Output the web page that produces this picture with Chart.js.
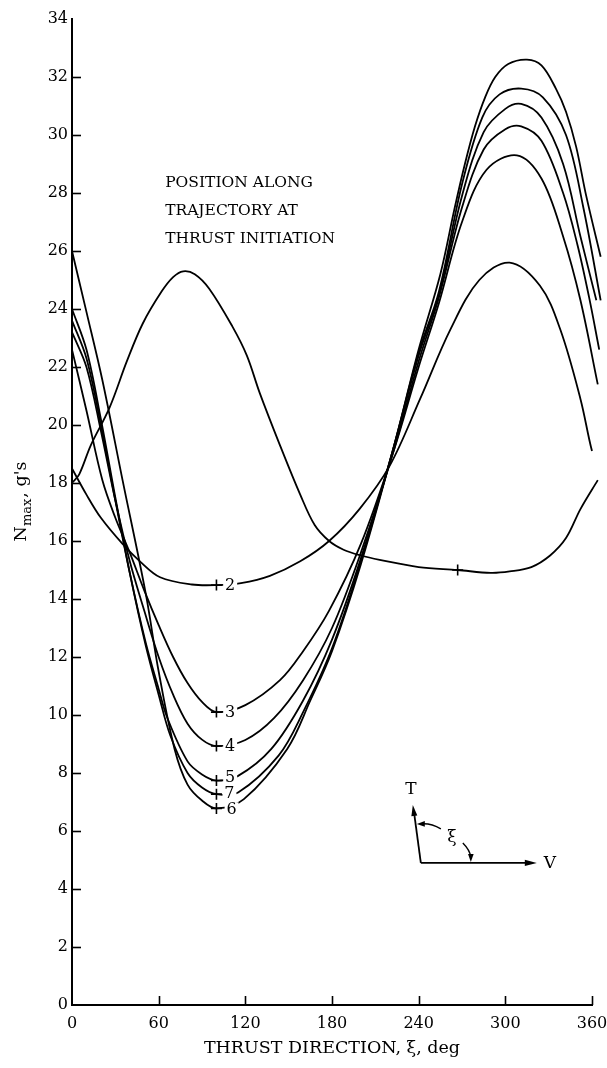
<!DOCTYPE html>
<html>
<head>
<meta charset="utf-8">
<script src="https://cdn.jsdelivr.net/npm/chart.js@4.4.0/dist/chart.umd.min.js"></script>
<style>
  html, body { margin: 0; padding: 0; background: #ffffff; }
  #chart { display: block; }
</style>
</head>
<body>
<canvas id="chart" width="607" height="1068"></canvas>
<script>
// N_max vs thrust direction — curves por posición en la trayectoria (2..7)

// tick labels
const xTicks = [0, 60, 120, 180, 240, 300, 360];
const yTicks = [0, 2, 4, 6, 8, 10, 12, 14, 16, 18, 20, 22, 24, 26, 28, 30, 32, 34];

// curva sin número (pico cerca de 77 deg)
const curve1Deg = [0, 5, 13, 26, 38, 49, 62, 70, 77, 85, 95, 111, 121, 130, 144, 158, 168, 178, 188, 200, 213, 240, 267, 290, 303, 318, 331, 342, 352, 364];
const curve1G   = [18.0, 18.3, 19.3, 20.6, 22.2, 23.5, 24.6, 25.1, 25.3, 25.2, 24.7, 23.4, 22.4, 21.1, 19.3, 17.6, 16.55, 16.0, 15.7, 15.5, 15.35, 15.1, 15.0, 14.9, 14.95, 15.1, 15.5, 16.1, 17.1, 18.1];

// posición 2
const curve2Deg = [0, 10, 20, 35, 47, 61, 83, 100, 117, 137, 158, 178, 199, 220, 241, 262, 282, 303, 324, 338, 352, 360, 365];
const curve2G   = [18.5, 17.6, 16.8, 15.9, 15.3, 14.75, 14.5, 14.48, 14.55, 14.8, 15.3, 16.0, 17.1, 18.6, 20.9, 23.3, 25.0, 25.6, 24.8, 23.3, 20.9, 19.1, 18.4];

// posición 3
const curve3Deg = [0, 10, 21, 30, 40, 50, 60, 70, 80, 90, 100, 120, 144, 160, 178, 200, 222, 240, 254, 270, 287, 308, 325, 340, 352, 364];
const curve3G   = [22.6, 20.5, 18.1, 16.8, 15.6, 14.3, 13.1, 12.0, 11.1, 10.45, 10.1, 10.34, 11.2, 12.2, 13.6, 15.9, 19.0, 22.0, 24.2, 27.0, 28.8, 29.3, 28.5, 26.5, 24.3, 21.4];

// posición 4
const curve4Deg = [0, 10, 20, 30, 40, 50, 60, 70, 80, 90, 100, 120, 140, 160, 180, 200, 222, 240, 254, 270, 285, 300, 311, 325, 340, 350, 358, 365];
const curve4G   = [23.2, 22.0, 19.8, 17.4, 15.3, 13.6, 12.0, 10.7, 9.7, 9.15, 8.93, 9.14, 9.9, 11.2, 13.0, 15.6, 19.0, 22.2, 24.4, 27.5, 29.5, 30.2, 30.3, 29.8, 28.0, 26.2, 24.4, 22.6];

// posición 5
const curve5Deg = [0, 10, 20, 30, 40, 51, 60, 66, 80, 90, 100, 115, 138, 160, 180, 200, 222, 240, 254, 270, 285, 300, 311, 325, 340, 352, 363, 366];
const curve5G   = [23.6, 22.3, 20.0, 17.4, 14.9, 12.5, 10.9, 9.9, 8.4, 7.95, 7.74, 7.9, 8.83, 10.5, 12.6, 15.4, 19.1, 22.4, 24.5, 27.9, 30.1, 30.9, 31.07, 30.6, 29.0, 26.5, 24.3, 23.7];

// posición 7
const curve7Deg = [0, 10, 20, 30, 40, 51, 60, 68, 80, 90, 100, 115, 143, 160, 180, 200, 222, 240, 254, 270, 284, 296, 311, 326, 342, 354, 366];
const curve7G   = [24.0, 22.6, 20.2, 17.5, 14.9, 12.4, 10.7, 9.3, 8.0, 7.5, 7.27, 7.33, 8.6, 10.1, 12.3, 15.3, 19.1, 22.5, 24.6, 28.3, 30.6, 31.4, 31.6, 31.3, 30.0, 27.5, 24.3];

// posición 6
const curve6Deg = [0, 10, 21, 35, 51, 60, 71, 80, 90, 100, 119, 149, 165, 180, 200, 222, 240, 255, 265, 272, 279, 286, 293, 302, 315, 325, 335, 342, 349, 356, 366];
const curve6G   = [26.0, 23.9, 21.55, 18.1, 14.2, 11.5, 8.83, 7.6, 7.05, 6.78, 7.1, 8.83, 10.5, 12.2, 15.2, 19.1, 22.6, 25.2, 27.5, 29.0, 30.3, 31.3, 32.0, 32.45, 32.6, 32.4, 31.6, 30.8, 29.6, 27.9, 25.8];

// marcas "+" y números de curva
const markDeg   = [100, 100, 100, 100, 100, 100, 267];
const markG     = [14.48, 10.1, 8.93, 7.74, 7.27, 6.78, 15.0];
const labelText = ['2', '3', '4', '5', '7', '6'];
const labelDeg  = [109.5, 109.5, 109.5, 109.5, 109, 110.5];
const labelG    = [14.48, 10.1, 8.93, 7.86, 7.33, 6.78];

const noteLines = ['POSITION ALONG', 'TRAJECTORY AT', 'THRUST INITIATION'];

const SERIF = "'DejaVu Serif', 'Liberation Serif', serif";

function toPoints(xs, ys) {
  return xs.map((x, i) => ({ x, y: ys[i] }));
}

function curveSet(xs, ys) {
  return {
    data: toPoints(xs, ys),
    borderColor: '#000000',
    borderWidth: 1.8,
    pointRadius: 0,
    tension: 0.35,
    fill: false,
    clip: 14,  // las curvas salen un poco más allá de 360
  };
}

function arrowHead(ctx, tx, ty, ang, len, half) {
  ctx.beginPath();
  ctx.moveTo(tx, ty);
  ctx.lineTo(tx - len * Math.cos(ang) + half * Math.sin(ang), ty - len * Math.sin(ang) - half * Math.cos(ang));
  ctx.lineTo(tx - len * Math.cos(ang) - half * Math.sin(ang), ty - len * Math.sin(ang) + half * Math.cos(ang));
  ctx.closePath();
  ctx.fill();
}

// ticks hacia dentro, números de curva, nota y diagrama T/V
const decorations = {
  id: 'decorations',
  afterDatasetsDraw(chart) {
    const { ctx, chartArea: a, scales: { x, y } } = chart;
    ctx.save();
    ctx.strokeStyle = '#000';
    ctx.fillStyle = '#000';
    ctx.lineWidth = 1.6;

    // ticks interiores
    yTicks.slice(1, -1).forEach(v => {
      const py = Math.round(y.getPixelForValue(v)) + 0.5;
      ctx.beginPath(); ctx.moveTo(a.left, py); ctx.lineTo(a.left + 9, py); ctx.stroke();
    });
    xTicks.slice(1).forEach(v => {
      const px = Math.round(x.getPixelForValue(v)) + 0.5;
      ctx.beginPath(); ctx.moveTo(px, a.bottom); ctx.lineTo(px, a.bottom - 9); ctx.stroke();
    });

    // números de curva con hueco blanco
    ctx.font = '16px ' + SERIF;
    ctx.textAlign = 'center';
    ctx.textBaseline = 'middle';
    labelText.forEach((t, i) => {
      const px = x.getPixelForValue(labelDeg[i]);
      const py = y.getPixelForValue(labelG[i]);
      ctx.fillStyle = '#fff';
      ctx.fillRect(px - 7, py - 6, 14, 12);
      ctx.fillStyle = '#000';
      ctx.fillText(t, px, py + 1);
    });

    // nota
    ctx.font = '15.5px ' + SERIF;
    ctx.textAlign = 'left';
    const nx = x.getPixelForValue(64.5);
    const ny = y.getPixelForValue(28.33);
    noteLines.forEach((t, i) => ctx.fillText(t, nx, ny + i * 28));

    // diagrama T / ξ / V
    const cx = x.getPixelForValue(241.5);
    const cy = y.getPixelForValue(4.9);
    ctx.lineWidth = 1.8;
    ctx.beginPath(); ctx.moveTo(cx, cy); ctx.lineTo(cx + 108, cy); ctx.stroke();
    arrowHead(ctx, cx + 116, cy, 0, 12, 3.2);
    ctx.beginPath(); ctx.moveTo(cx, cy); ctx.lineTo(cx - 7, cy - 52); ctx.stroke();
    arrowHead(ctx, cx - 8, cy - 58, Math.atan2(-58, -8), 11, 3);
    ctx.lineWidth = 1.4;
    ctx.beginPath();
    ctx.moveTo(cx + 20, cy - 34);
    ctx.quadraticCurveTo(cx + 10, cy - 40, cx + 0, cy - 39);
    ctx.stroke();
    arrowHead(ctx, cx - 4, cy - 39, Math.PI, 8, 2.8);
    ctx.beginPath();
    ctx.moveTo(cx + 42, cy - 20);
    ctx.quadraticCurveTo(cx + 49, cy - 13, cx + 50, cy - 6);
    ctx.stroke();
    arrowHead(ctx, cx + 50, cy - 1, Math.PI / 2, 8, 2.8);
    ctx.font = '17px ' + SERIF;
    ctx.textAlign = 'center';
    ctx.fillText('T', cx - 10, cy - 73);
    ctx.fillText('ξ', cx + 31, cy - 25);
    ctx.textAlign = 'left';
    ctx.fillText('V', cx + 123, cy + 1);

    // título del eje Y con subíndice
    ctx.save();
    ctx.translate(21, (a.top + a.bottom) / 2 - 10);
    ctx.rotate(-Math.PI / 2);
    ctx.textAlign = 'left';
    ctx.textBaseline = 'middle';
    const big = '17.5px ' + SERIF, small = '13px ' + SERIF;
    ctx.font = big;  const wN = ctx.measureText('N').width;
    ctx.font = small; const wM = ctx.measureText('max').width;
    ctx.font = big;  const wR = ctx.measureText(", g's").width;
    let tx = -(wN + wM + wR) / 2;
    ctx.font = big;   ctx.fillText('N', tx, 0); tx += wN;
    ctx.font = small; ctx.fillText('max', tx, 7); tx += wM + 1;
    ctx.font = big;   ctx.fillText(", g's", tx, 0);
    ctx.restore();

    ctx.restore();
  },
};

Chart.defaults.font.family = SERIF;
Chart.defaults.color = '#000';

new Chart(document.getElementById('chart'), {
  type: 'line',
  data: {
    datasets: [
      curveSet(curve1Deg, curve1G),
      curveSet(curve2Deg, curve2G),
      curveSet(curve3Deg, curve3G),
      curveSet(curve4Deg, curve4G),
      curveSet(curve5Deg, curve5G),
      curveSet(curve7Deg, curve7G),
      curveSet(curve6Deg, curve6G),
      {
        data: toPoints(markDeg, markG),
        showLine: false,
        pointStyle: 'cross',
        pointRadius: 5.5,
        borderColor: '#000',
        borderWidth: 1.6,
      },
    ],
  },
  options: {
    responsive: false,
    animation: false,
    devicePixelRatio: 1,
    layout: { padding: { left: 0, right: 15, top: 19, bottom: 0 } },
    plugins: { legend: { display: false }, tooltip: { enabled: false } },
    scales: {
      x: {
        type: 'linear',
        min: 0,
        max: 360,
        afterBuildTicks: s => { s.ticks = xTicks.map(v => ({ value: v })); },
        afterFit: s => { s.height = 63; s.paddingLeft = 0; s.paddingRight = 0; },
        grid: { display: false, drawTicks: false },
        border: { display: true, color: '#000', width: 2 },
        ticks: { font: { size: 16 }, padding: 9, maxRotation: 0, color: '#000' },
        title: {
          display: true,
          text: 'THRUST DIRECTION, ξ, deg',
          font: { size: 17.5 },
          color: '#000',
          padding: { top: 0, bottom: 9 },
        },
      },
      y: {
        type: 'linear',
        min: 0,
        max: 34,
        afterBuildTicks: s => { s.ticks = yTicks.map(v => ({ value: v })); },
        afterFit: s => { s.width = 72; },
        grid: { display: false, drawTicks: false },
        border: { display: true, color: '#000', width: 2 },
        ticks: { font: { size: 16 }, padding: 4, color: '#000' },
      },
    },
  },
  plugins: [decorations],
});
</script>
</body>
</html>
